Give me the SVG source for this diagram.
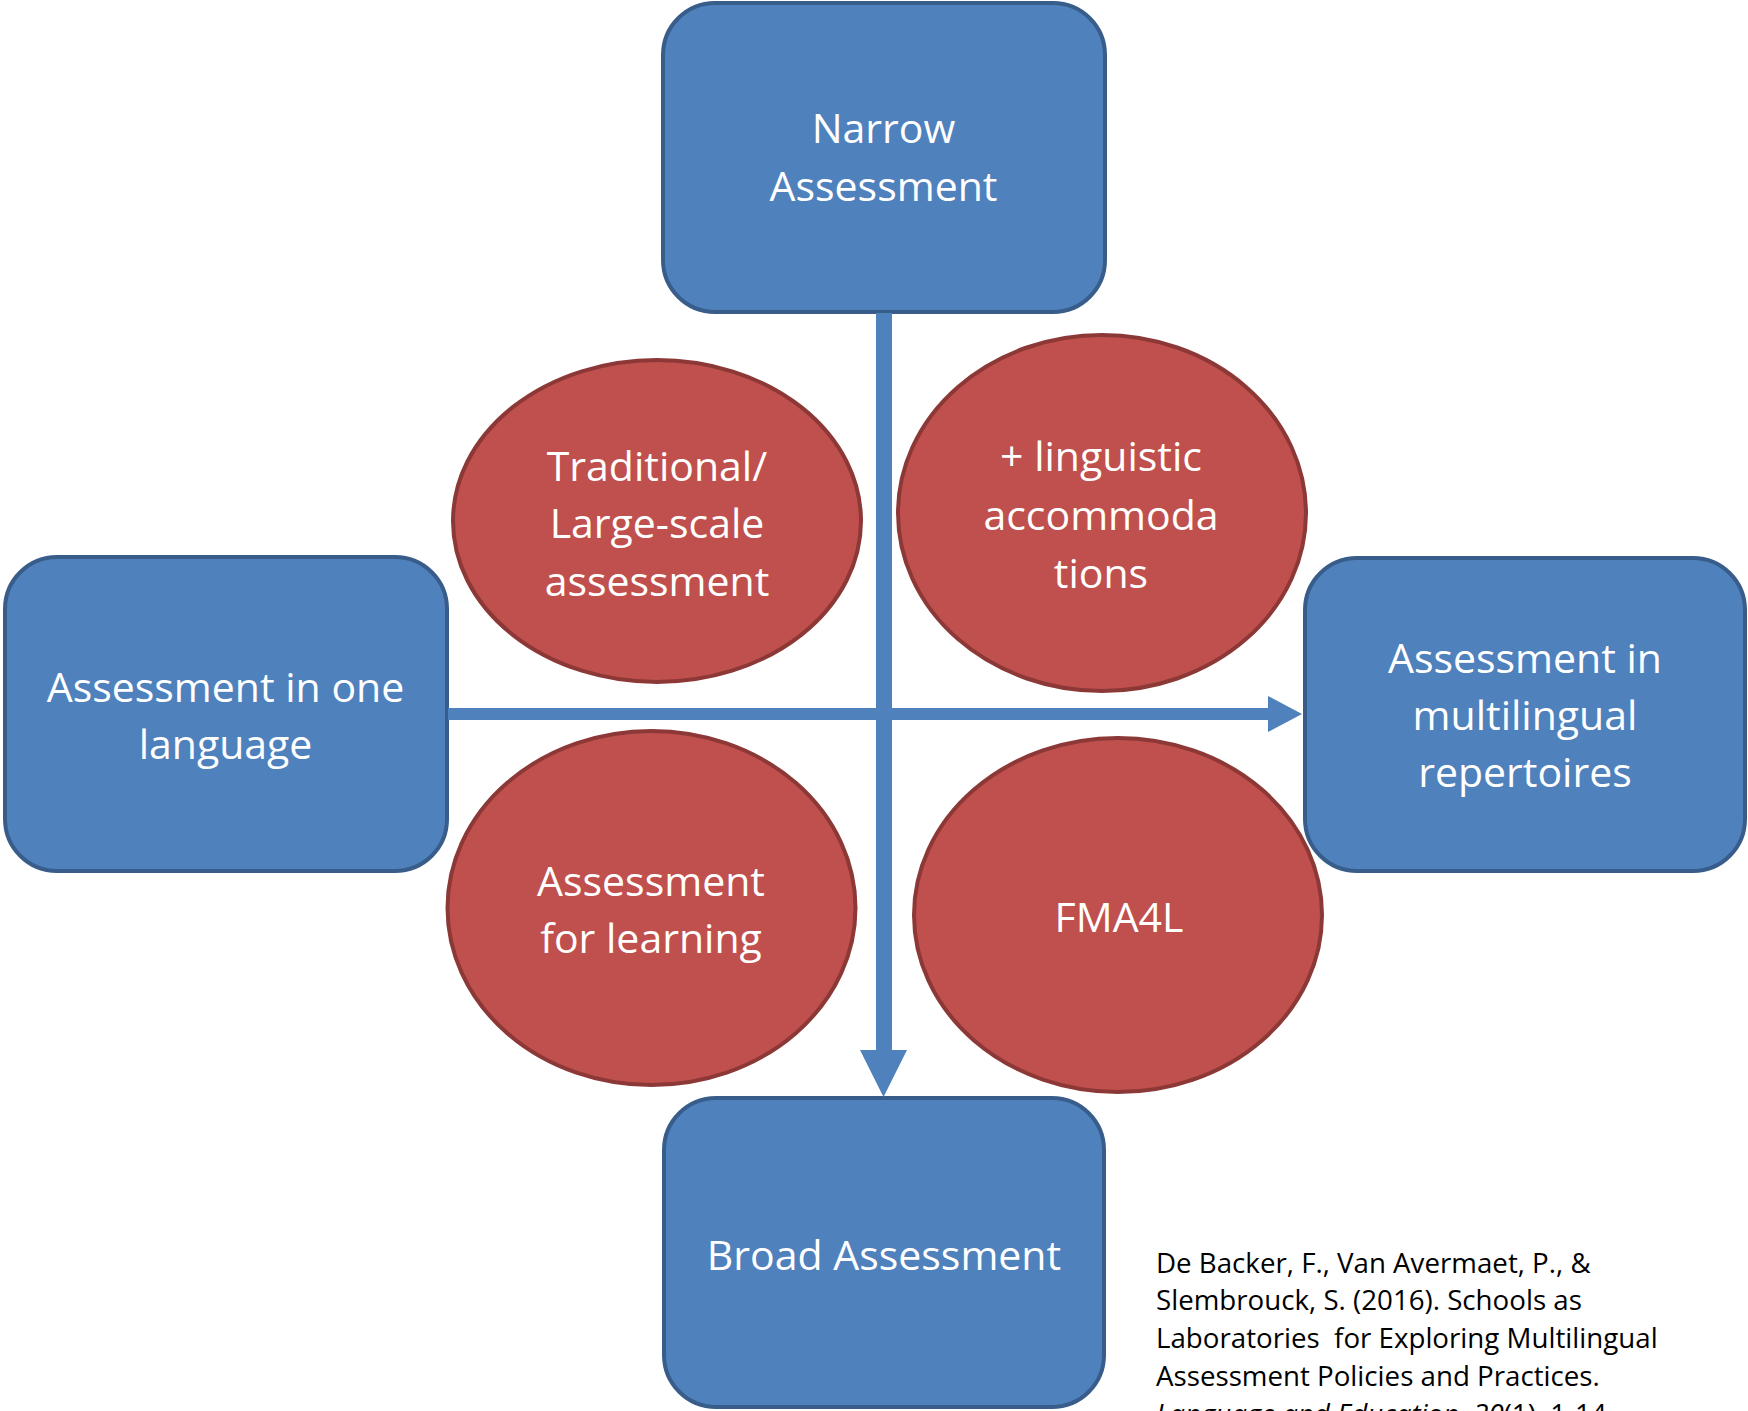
<svg xmlns="http://www.w3.org/2000/svg" width="1748" height="1411" viewBox="0 0 1748 1411">
<style>
.box{fill:#4F81BD;stroke:#385D8A;stroke-width:4}
.oval{fill:#C0504D;stroke:#8C3836;stroke-width:4}
.lbl{font-family:"Open Sans","Liberation Sans",sans-serif;font-size:41px;fill:#FFFFFF;text-anchor:middle}
.cite{font-family:"Open Sans","Liberation Sans",sans-serif;font-size:27.7px;fill:#000000}
.conn{fill:#4F81BD}
</style>
<rect width="1748" height="1411" fill="#FFFFFF"/>
<g id="node-traditional">
<ellipse class="oval" cx="657" cy="521" rx="204" ry="161"/>
<text class="lbl" x="657" y="481">Traditional/</text>
<text class="lbl" x="657" y="538">Large-scale</text>
<text class="lbl" x="657" y="596">assessment</text>
</g>
<g id="node-linguistic">
<ellipse class="oval" cx="1102" cy="513" rx="204" ry="178"/>
<text class="lbl" x="1101" y="471">+ linguistic</text>
<text class="lbl" x="1101" y="530">accommoda</text>
<text class="lbl" x="1101" y="588">tions</text>
</g>
<g id="node-afl">
<ellipse class="oval" cx="651.5" cy="908" rx="204" ry="177"/>
<text class="lbl" x="651" y="896">Assessment</text>
<text class="lbl" x="651" y="953">for learning</text>
</g>
<g id="node-fma4l">
<ellipse class="oval" cx="1118" cy="915" rx="204" ry="177"/>
<text class="lbl" x="1119" y="932">FMA4L</text>
</g>
<g id="node-narrow">
<rect class="box" x="663" y="3" width="442" height="309" rx="52" ry="52"/>
<text class="lbl" x="883.5" y="143">Narrow</text>
<text class="lbl" x="883.5" y="201">Assessment</text>
</g>
<g id="node-one-language">
<rect class="box" x="5" y="557" width="442" height="314" rx="52" ry="52"/>
<text class="lbl" x="225.5" y="702">Assessment in one</text>
<text class="lbl" x="225.5" y="759">language</text>
</g>
<g id="node-multilingual">
<rect class="box" x="1305" y="558" width="440" height="313" rx="52" ry="52"/>
<text class="lbl" x="1525" y="673">Assessment in</text>
<text class="lbl" x="1525" y="730">multilingual</text>
<text class="lbl" x="1525" y="787">repertoires</text>
</g>
<g id="node-broad">
<rect class="box" x="664" y="1098" width="440" height="309" rx="52" ry="52"/>
<text class="lbl" x="884" y="1270">Broad Assessment</text>
</g>
<g id="connectors">
<rect class="conn" x="876" y="313" width="16" height="739"/>
<polygon class="conn" points="860,1050 907,1050 883.5,1097"/>
<rect class="conn" x="448" y="708" width="822" height="12"/>
<polygon class="conn" points="1268,696 1268,732 1302,714"/>
</g>
<g id="citation">
<text class="cite" x="1156" y="1273">De Backer, F., Van Avermaet, P., &amp;</text>
<text class="cite" x="1156" y="1310">Slembrouck, S. (2016). Schools as</text>
<text class="cite" x="1156" y="1348" xml:space="preserve">Laboratories  for Exploring Multilingual</text>
<text class="cite" x="1156" y="1386">Assessment Policies and Practices.</text>
<text class="cite" x="1156" y="1424"><tspan font-style="italic">Language and Education, 30</tspan>(1), 1-14.</text>
</g>
</svg>
